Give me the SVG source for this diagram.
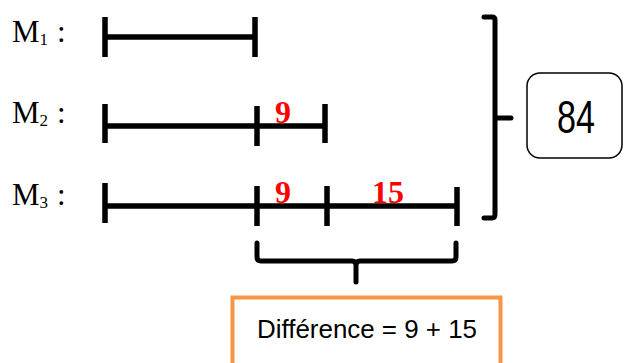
<svg xmlns="http://www.w3.org/2000/svg" width="624" height="363" viewBox="0 0 624 363">
<style>
.bar{stroke:#000;stroke-width:5.5;fill:none}
.brace{stroke:#000;stroke-width:5;fill:none;stroke-linecap:round;stroke-linejoin:round}
.lbl{font-family:"Liberation Serif","Times New Roman",serif;font-size:31px;fill:#000}
.sub{font-size:17px}
.red{font-family:"Liberation Serif","Times New Roman",serif;font-size:32px;font-weight:bold;fill:#ff0000;text-anchor:middle}
.sans{font-family:"Liberation Sans",Arial,sans-serif;fill:#000}
</style>
<rect width="624" height="363" fill="#fff"/>
<g id="m1">
<text class="lbl" x="12" y="42">M<tspan class="sub" dy="3">1</tspan></text>
<text class="lbl" x="57" y="42">:</text>
<path class="bar" d="M105 37H255M105 17V57M255 17V57"/>
</g>
<g id="m2">
<text class="lbl" x="12" y="123">M<tspan class="sub" dy="3">2</tspan></text>
<text class="lbl" x="57" y="123">:</text>
<path class="bar" d="M105 126H325M105 104V143M257 106V146M325 104V143"/>
<text class="red" x="283" y="123">9</text>
</g>
<g id="m3">
<text class="lbl" x="12" y="205">M<tspan class="sub" dy="3">3</tspan></text>
<text class="lbl" x="57" y="205">:</text>
<path class="bar" d="M105 206H457M105 183V223M257 186V226M327 186V226M457 187V226"/>
<text class="red" x="283" y="203">9</text>
<text class="red" x="388" y="203">15</text>
</g>
<g id="connectors">
<path class="brace" d="M484 17H492Q495 17 495 20V214Q495 218 492 218H484M495 118H511"/>
<path class="brace" d="M257 243V257Q257 261 261 261H352Q356 261 356 265V282M356 265Q356 261 360 261H452Q456 261 456 257V243"/>
</g>
<g id="total">
<rect x="527" y="73" width="95" height="85" rx="13" ry="13" fill="#fff" stroke="#000" stroke-width="1.5"/>
<text class="sans" x="576" y="133" font-size="46" text-anchor="middle" textLength="38" lengthAdjust="spacingAndGlyphs">84</text>
</g>
<g id="difference">
<rect x="232.5" y="297.5" width="268" height="80" fill="#fff" stroke="#f79646" stroke-width="4"/>
<text class="sans" x="257" y="338" font-size="26" textLength="220" lengthAdjust="spacingAndGlyphs">Différence = 9 + 15</text>
</g>
</svg>
